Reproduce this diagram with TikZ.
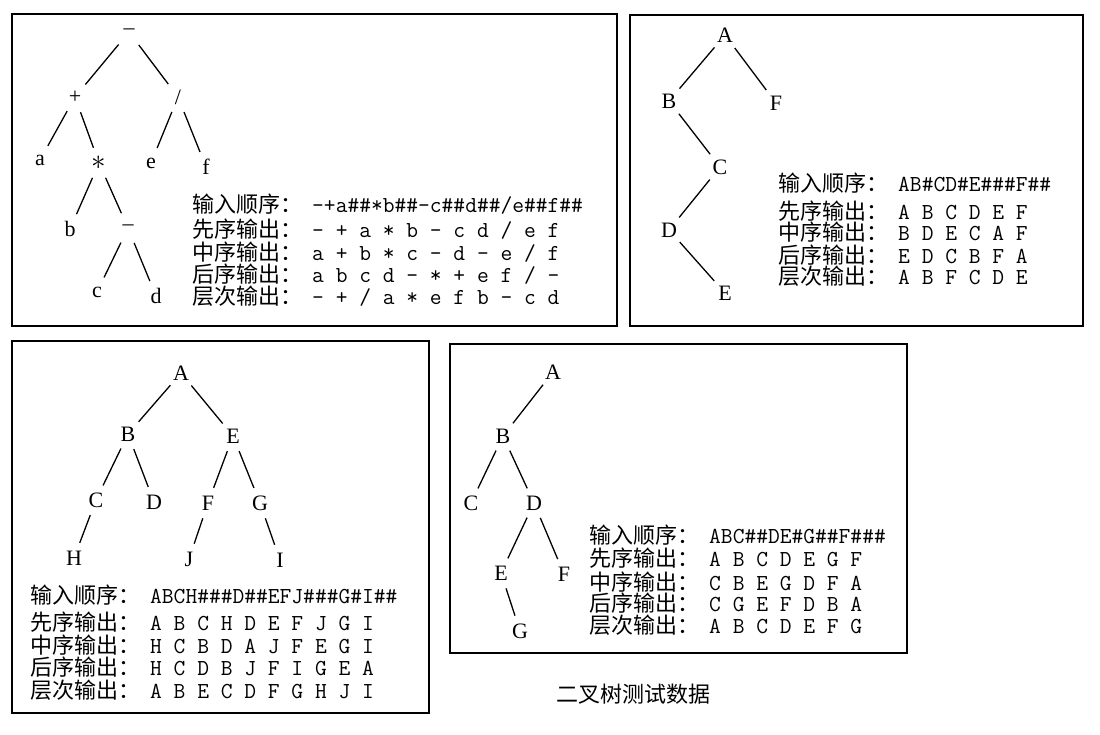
\documentclass[tikz,border=0pt]{standalone}
\usepackage{fontspec}
\setmainfont{Liberation Serif}
\newfontfamily\cjk{Noto Sans CJK SC}
% one line of traversal output: label, then data 120 units to the right
\newcommand{\outrow}[5]{%
  \node[lab] (#1l) at (#2,#3) {#4};
  \node[dat] (#1d) at (#2+120,#3) {#5};}

\begin{document}
\begin{tikzpicture}[x=1pt, y=-1pt,
    vert/.style={circle, minimum size=32pt, inner sep=0pt, font=\fontsize{22}{24}\selectfont},
    edge/.style={line width=1.3pt},
    frame/.style={draw, line width=1.6pt},
    lab/.style={anchor=base west, inner sep=0pt, font=\fontsize{22}{24}\selectfont\cjk},
    dat/.style={anchor=base west, inner sep=0pt, font=\fontsize{22.86}{24}\selectfont\ttfamily},
    captxt/.style={inner sep=0pt, font=\fontsize{22}{24}\selectfont\cjk}
]
\useasboundingbox (0,0) rectangle (1100,735);

% frames
\draw[frame] (12,14) rectangle (617,326);
\draw[frame] (630,15) rectangle (1083,326);
\draw[frame] (12,341) rectangle (429,713);
\draw[frame] (450,344) rectangle (907,653);

% tree 1: expression
\node[vert] (t1m) at (129,32) {–};
\node[vert] (t1p) at (75,97) {+};
\node[vert] (t1s) at (178,97) {/};
\node[vert] (t1a) at (40,160) {a};
\node[vert] (t1t) at (99,163) {\scalebox{1.4}{$\ast$}};
\node[vert] (t1e) at (151,163) {e};
\node[vert] (t1f) at (206,167) {f};
\node[vert] (t1b) at (70,229) {b};
\node[vert] (t1n) at (128,228) {–};
\node[vert] (t1c) at (97,292) {c};
\node[vert] (t1d) at (156,296) {d};
\draw[edge] (t1m) -- (t1p);
\draw[edge] (t1m) -- (t1s);
\draw[edge] (t1p) -- (t1a);
\draw[edge] (t1p) -- (t1t);
\draw[edge] (t1s) -- (t1e);
\draw[edge] (t1s) -- (t1f);
\draw[edge] (t1t) -- (t1b);
\draw[edge] (t1t) -- (t1n);
\draw[edge] (t1n) -- (t1c);
\draw[edge] (t1n) -- (t1d);
\outrow{r1a}{192}{213}{输入顺序：}{–+a\#\#*b\#\#–c\#\#d\#\#/e\#\#f\#\#}
\outrow{r1b}{192}{238}{先序输出：}{– + a * b – c d / e f}
\outrow{r1c}{192}{261}{中序输出：}{a + b * c – d – e / f}
\outrow{r1d}{192}{283}{后序输出：}{a b c d – * + e f / –}
\outrow{r1e}{192}{305}{层次输出：}{– + / a * e f b – c d}

% tree 2
\node[vert] (t2A) at (725,35) {A};
\node[vert] (t2B) at (669,101) {B};
\node[vert] (t2F) at (776,103) {F};
\node[vert] (t2C) at (720,167) {C};
\node[vert] (t2D) at (669,230) {D};
\node[vert] (t2E) at (725,293) {E};
\draw[edge] (t2A) -- (t2B);
\draw[edge] (t2A) -- (t2F);
\draw[edge] (t2B) -- (t2C);
\draw[edge] (t2C) -- (t2D);
\draw[edge] (t2D) -- (t2E);
\outrow{r2a}{778}{192}{输入顺序：}{AB\#CD\#E\#\#\#F\#\#}
\outrow{r2b}{778}{220}{先序输出：}{A B C D E F}
\outrow{r2c}{778}{241}{中序输出：}{B D E C A F}
\outrow{r2d}{778}{264}{后序输出：}{E D C B F A}
\outrow{r2e}{778}{285}{层次输出：}{A B F C D E}

% tree 3
\node[vert] (t3A) at (181,373) {A};
\node[vert] (t3B) at (128,434) {B};
\node[vert] (t3E) at (233,436) {E};
\node[vert] (t3C) at (96,500) {C};
\node[vert] (t3D) at (154,502) {D};
\node[vert] (t3F) at (208,503) {F};
\node[vert] (t3G) at (260,503) {G};
\node[vert] (t3H) at (74,558) {H};
\node[vert] (t3J) at (189,559) {J};
\node[vert] (t3I) at (280,560) {I};
\draw[edge] (t3A) -- (t3B);
\draw[edge] (t3A) -- (t3E);
\draw[edge] (t3B) -- (t3C);
\draw[edge] (t3B) -- (t3D);
\draw[edge] (t3E) -- (t3F);
\draw[edge] (t3E) -- (t3G);
\draw[edge] (t3C) -- (t3H);
\draw[edge] (t3F) -- (t3J);
\draw[edge] (t3G) -- (t3I);
\outrow{r3a}{30}{603}{输入顺序：}{ABCH\#\#\#D\#\#EFJ\#\#\#G\#I\#\#}
\outrow{r3b}{30}{630}{先序输出：}{A B C H D E F J G I}
\outrow{r3c}{30}{653}{中序输出：}{H C B D A J F E G I}
\outrow{r3d}{30}{675}{后序输出：}{H C D B J F I G E A}
\outrow{r3e}{30}{698}{层次输出：}{A B E C D F G H J I}

% tree 4
\node[vert] (t4A) at (553,372) {A};
\node[vert] (t4B) at (503,436) {B};
\node[vert] (t4C) at (471,503) {C};
\node[vert] (t4D) at (534,503) {D};
\node[vert] (t4E) at (501,573) {E};
\node[vert] (t4F) at (564,574) {F};
\node[vert] (t4G) at (520,631) {G};
\draw[edge] (t4A) -- (t4B);
\draw[edge] (t4B) -- (t4C);
\draw[edge] (t4B) -- (t4D);
\draw[edge] (t4D) -- (t4E);
\draw[edge] (t4D) -- (t4F);
\draw[edge] (t4E) -- (t4G);
\outrow{r4a}{589}{543}{输入顺序：}{ABC\#\#DE\#G\#\#F\#\#\#}
\outrow{r4b}{589}{566}{先序输出：}{A B C D E G F}
\outrow{r4c}{589}{590}{中序输出：}{C B E G D F A}
\outrow{r4d}{589}{611}{后序输出：}{C G E F D B A}
\outrow{r4e}{589}{633}{层次输出：}{A B C D E F G}

\node[captxt] (title) at (633,694) {二叉树测试数据};
\end{tikzpicture}
\end{document}
